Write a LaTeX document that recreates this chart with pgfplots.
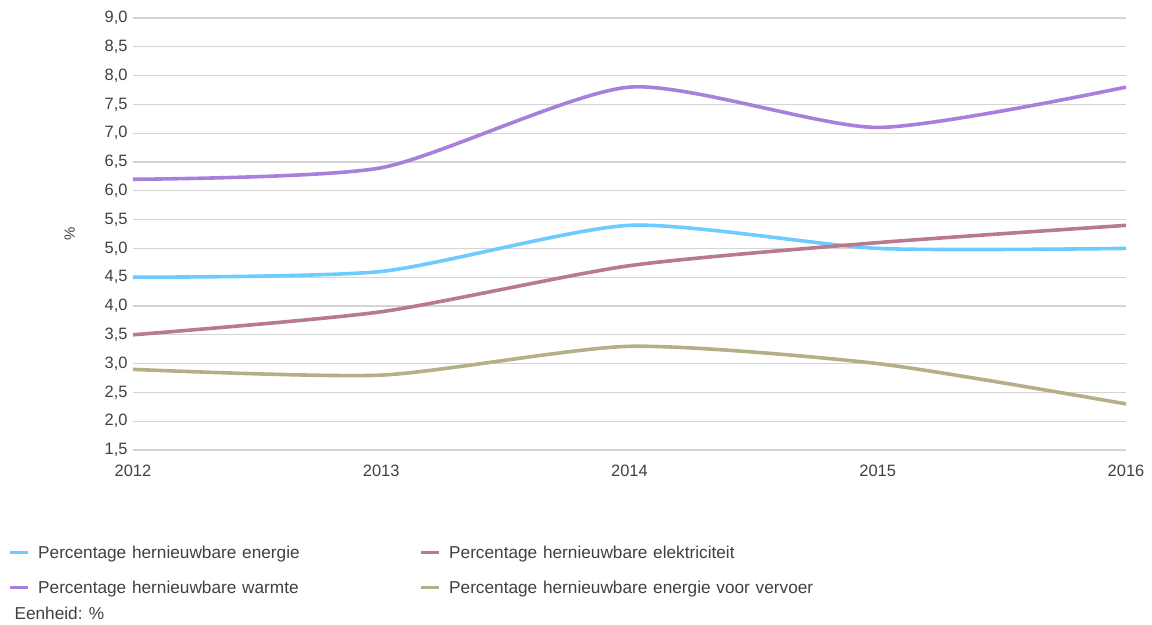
\documentclass[border=0pt]{standalone}
\usepackage{pgfplots}
\pgfplotsset{compat=1.18}
\usepackage{fontspec}
\setmainfont{Liberation Sans}
\definecolor{cblue}{HTML}{6CCBFF}
\definecolor{cmauve}{HTML}{B87A8C}
\definecolor{cpurple}{HTML}{A97FDD}
\definecolor{colive}{HTML}{B5AF85}
\definecolor{cgrid}{HTML}{D4D4D4}
\definecolor{ctext}{HTML}{404040}
\begin{document}
\begin{tikzpicture}
\path[use as bounding box] (-133bp,-175bp) rectangle (1019bp,450bp);
\begin{axis}[
  at={(0,0)}, anchor=south west,
  scale only axis, width=993bp, height=432bp,
  xmin=2012, xmax=2016, ymin=1.5, ymax=9.0,
  axis line style={draw=none},
  xtick={2012,2013,2014,2015,2016},
  xticklabels={2012,2013,2014,2015,2016},
  ytick={1.5,2,...,9.0},
  ymajorgrids, grid style={cgrid, line width=1.1bp},
  major tick length=0pt,
  tick label style={font=\fontsize{16.5}{18}\selectfont, text=ctext},
  yticklabel style={/pgf/number format/use comma, /pgf/number format/fixed, /pgf/number format/fixed zerofill, /pgf/number format/precision=1, /pgf/number format/assume math mode=true, xshift=-2bp},
  xticklabel style={yshift=-12bp},
  ylabel={\%}, ylabel style={font=\fontsize{15}{17}\selectfont, text=ctext, at={(axis description cs:-0.055,0.5)}},
  legend columns=2,
  legend style={draw=none, fill=none, at={(-0.1289,-0.212)}, anchor=north west,
    font=\fontsize{17.3}{19}\selectfont, text=ctext,
    nodes={text width=372bp, inner xsep=0pt, inner ysep=2bp},
    row sep=17bp, column sep=9bp},
  legend cell align=left,
  legend image code/.code={\draw[#1, line width=3bp] (0bp,0bp) -- (18bp,0bp);},
  every axis plot/.append style={line width=3.6bp, smooth, tension=0.4},
]
\addplot[cblue] coordinates {(2012,4.5) (2013,4.6) (2014,5.4) (2015,5.0) (2016,5.0)};
\addlegendentry{Percentage hernieuwbare energie}
\addplot[cmauve] coordinates {(2012,3.5) (2013,3.9) (2014,4.7) (2015,5.1) (2016,5.4)};
\addlegendentry{Percentage hernieuwbare elektriciteit}
\addplot[cpurple] coordinates {(2012,6.2) (2013,6.4) (2014,7.8) (2015,7.1) (2016,7.8)};
\addlegendentry{Percentage hernieuwbare warmte}
\addplot[colive] coordinates {(2012,2.9) (2013,2.8) (2014,3.3) (2015,3.0) (2016,2.3)};
\addlegendentry{Percentage hernieuwbare energie voor vervoer}
\end{axis}
\node[anchor=west, font=\fontsize{17.3}{19}\selectfont, text=ctext] at (-122bp,-163bp) {Eenheid: \%};
\end{tikzpicture}
\end{document}
